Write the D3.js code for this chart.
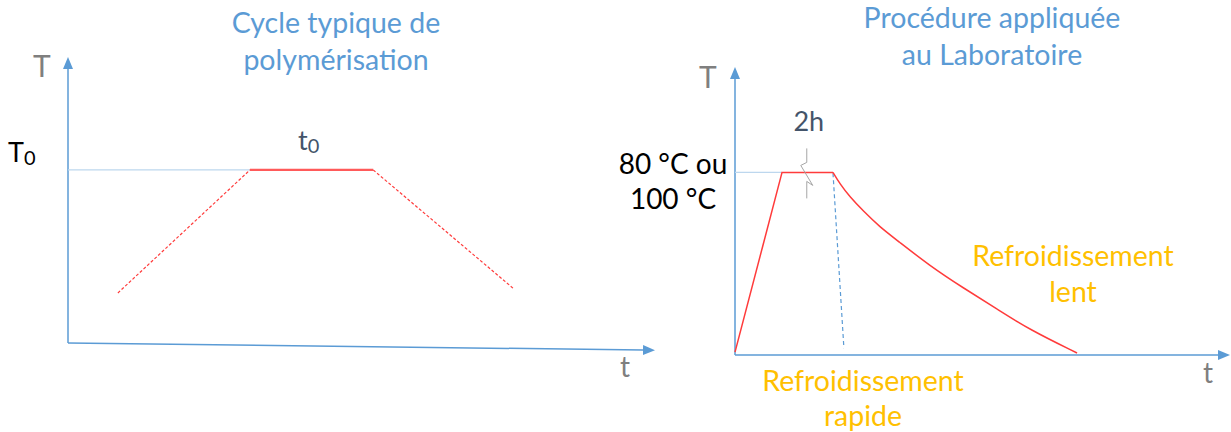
<!DOCTYPE html>
<html>
<head>
<meta charset="utf-8">
<script src="https://cdn.jsdelivr.net/npm/d3@7"></script>
<style>
  body { margin: 0; background: #fff; }
  svg { display: block; font-family: Lato, "Open Sans", sans-serif; }
</style>
</head>
<body>
<div id="chart"></div>
<script>
// left panel: typical polymerisation cycle (time units, % of T scale)
const cycleTime = [0.85, 3.1, 5.2, 7.58];
const cycleTemp = [17.5, 60.5, 60.5, 19.2];
const cycleTitle = ["Cycle typique de", "polymérisation"];

// right panel: procedure used at the lab
const rampTime = [0, 0.95, 1.98];
const rampTemp = [1, 63.4, 63.4];
const slowTime = [1.98, 2.12, 2.32, 2.59, 2.93, 3.27, 3.94, 4.61, 5.29, 5.96, 6.91];
const slowTemp = [63.4, 59.4, 54.9, 50.0, 44.4, 39.9, 30.9, 23.3, 16.0, 8.7, 0.7];
const fastTime = [1.98, 2.2];
const fastTemp = [63.1, 2.4];
const holdMark = 1.45; // where the "2h" break sits on the plateau
const labTitle = ["Procédure appliquée", "au Laboratoire"];
const plateauLabel = ["80 °C ou", "100 °C"];
const slowLabel = ["Refroidissement", "lent"];
const fastLabel = ["Refroidissement", "rapide"];

const config = {
  width: 1231,
  height: 432,
  axisColor: "#5B9BD5",
  refColor: "#BDD7EE",
  red: "#FF3B3B",
  titleColor: "#5B9BD5",
  orange: "#FFC000",
  gray: "#7F7F7F",
  slate: "#44546A",
  fontSize: 28.5,
};

const svg = d3
  .select("#chart")
  .append("svg")
  .attr("width", config.width)
  .attr("height", config.height);

// arrow marker for the axes
svg
  .append("defs")
  .append("marker")
  .attr("id", "arrow")
  .attr("viewBox", "0 0 12 10")
  .attr("refX", 0)
  .attr("refY", 5)
  .attr("markerWidth", 12)
  .attr("markerHeight", 10)
  .attr("markerUnits", "userSpaceOnUse")
  .attr("orient", "auto")
  .append("path")
  .attr("d", "M0,0L12,5L0,10Z")
  .attr("fill", config.axisColor);

const line = (x, y) =>
  d3
    .line()
    .x((d) => x(d[0]))
    .y((d) => y(d[1]));

function multiLine(g, lines, x, y, spacing, color, size) {
  g.append("text")
    .attr("text-anchor", "middle")
    .attr("fill", color)
    .style("font-size", size + "px")
    .selectAll("tspan")
    .data(lines)
    .join("tspan")
    .attr("x", x)
    .attr("y", (d, i) => y + i * spacing)
    .text((d) => d);
}

// ---------- left panel ----------
const xL = d3.scaleLinear().domain([0, 10]).range([68, 655]);
const yL = d3.scaleLinear().domain([0, 100]).range([343, 57]);
const left = svg.append("g");
const lineL = line(xL, yL);

// axes (the t axis is drawn slightly tilted, as in the original)
left
  .append("line")
  .attr("x1", xL(0))
  .attr("y1", yL(0))
  .attr("x2", xL(0))
  .attr("y2", yL(100) + 12)
  .attr("stroke", config.axisColor)
  .attr("stroke-width", 1.5)
  .attr("marker-end", "url(#arrow)");
left
  .append("line")
  .attr("x1", xL(0))
  .attr("y1", yL(0))
  .attr("x2", xL(10) - 12)
  .attr("y2", yL(0) + 7)
  .attr("stroke", config.axisColor)
  .attr("stroke-width", 1.5)
  .attr("marker-end", "url(#arrow)");

// T0 reference
left
  .append("path")
  .attr("d", lineL([[0, cycleTemp[1]], [cycleTime[1], cycleTemp[1]]]))
  .attr("stroke", config.refColor)
  .attr("stroke-width", 1.2)
  .attr("fill", "none");

// ramps (dashed) and plateau
left
  .append("path")
  .attr("d", lineL([[cycleTime[0], cycleTemp[0]], [cycleTime[1], cycleTemp[1]]]))
  .attr("stroke", config.red)
  .attr("stroke-width", 1.2)
  .attr("stroke-dasharray", "3,2")
  .attr("fill", "none");
left
  .append("path")
  .attr("d", lineL([[cycleTime[2], cycleTemp[2]], [cycleTime[3], cycleTemp[3]]]))
  .attr("stroke", config.red)
  .attr("stroke-width", 1.2)
  .attr("stroke-dasharray", "3,2")
  .attr("fill", "none");
left
  .append("path")
  .attr("d", lineL([[cycleTime[1], cycleTemp[1]], [cycleTime[2], cycleTemp[2]]]))
  .attr("stroke", "#FF5A5A")
  .attr("stroke-width", 2.2)
  .attr("fill", "none");

// labels
multiLine(left, cycleTitle, 336, 33, 37, config.titleColor, config.fontSize);
left
  .append("text")
  .attr("x", 33)
  .attr("y", 77)
  .attr("fill", config.gray)
  .style("font-size", "30px")
  .text("T");
left
  .append("text")
  .attr("x", 620)
  .attr("y", 377)
  .attr("fill", config.gray)
  .style("font-size", "28px")
  .text("t");

const t0Label = left
  .append("text")
  .attr("x", 8)
  .attr("y", yL(cycleTemp[1]) - 8)
  .attr("fill", "#000")
  .style("font-size", "27px");
t0Label.append("tspan").text("T");
t0Label.append("tspan").attr("dy", 3).style("font-size", "20px").text("0");

const tLabel = left
  .append("text")
  .attr("x", 298)
  .attr("y", yL(cycleTemp[1]) - 20)
  .attr("fill", config.slate)
  .style("font-size", "27px");
tLabel.append("tspan").text("t");
tLabel.append("tspan").attr("dy", 3).style("font-size", "20px").text("0");

// ---------- right panel ----------
const xR = d3.scaleLinear().domain([0, 10]).range([735, 1230]);
const yR = d3.scaleLinear().domain([0, 100]).range([355, 67]);
const right = svg.append("g");
const lineR = line(xR, yR);

right
  .append("line")
  .attr("x1", xR(0))
  .attr("y1", yR(0))
  .attr("x2", xR(0))
  .attr("y2", yR(100) + 12)
  .attr("stroke", config.axisColor)
  .attr("stroke-width", 1.5)
  .attr("marker-end", "url(#arrow)");
right
  .append("line")
  .attr("x1", xR(0))
  .attr("y1", yR(0))
  .attr("x2", xR(10) - 12)
  .attr("y2", yR(0))
  .attr("stroke", config.axisColor)
  .attr("stroke-width", 1.5)
  .attr("marker-end", "url(#arrow)");

// plateau reference
right
  .append("path")
  .attr("d", lineR([[0, rampTemp[1]], [rampTime[1], rampTemp[1]]]))
  .attr("stroke", config.refColor)
  .attr("stroke-width", 1.2)
  .attr("fill", "none");

// fast cooling (dashed blue)
right
  .append("path")
  .attr("d", lineR(d3.zip(fastTime, fastTemp)))
  .attr("stroke", config.axisColor)
  .attr("stroke-width", 1.2)
  .attr("stroke-dasharray", "4,3")
  .attr("fill", "none");

// ramp + plateau
right
  .append("path")
  .attr("d", lineR(d3.zip(rampTime, rampTemp)))
  .attr("stroke", config.red)
  .attr("stroke-width", 1.5)
  .attr("fill", "none");

// slow cooling curve
right
  .append("path")
  .attr("d", line(xR, yR).curve(d3.curveBasis)(d3.zip(slowTime, slowTemp)))
  .attr("stroke", config.red)
  .attr("stroke-width", 1.5)
  .attr("fill", "none");

// break mark on the plateau
const bx = xR(holdMark);
const by = yR(rampTemp[1]);
right
  .append("path")
  .attr(
    "d",
    `M${bx},${by - 24}V${by - 10}L${bx - 6},${by - 7}L${bx + 6},${by + 13}L${bx},${by + 9}V${by + 26}`
  )
  .attr("stroke", "#A6A6A6")
  .attr("stroke-width", 1)
  .attr("fill", "none");

right
  .append("text")
  .attr("x", bx + 2)
  .attr("y", 131)
  .attr("text-anchor", "middle")
  .attr("fill", config.slate)
  .style("font-size", "27px")
  .text("2h");

multiLine(right, labTitle, 992, 28, 37, config.titleColor, config.fontSize);
multiLine(right, plateauLabel, 673, 174, 35, "#000", 28);
multiLine(right, slowLabel, 1073, 266, 36, config.orange, config.fontSize);
multiLine(right, fastLabel, 863, 391, 35, config.orange, config.fontSize);

right
  .append("text")
  .attr("x", 699)
  .attr("y", 88)
  .attr("fill", config.gray)
  .style("font-size", "30px")
  .text("T");
right
  .append("text")
  .attr("x", 1203)
  .attr("y", 383)
  .attr("fill", config.gray)
  .style("font-size", "28px")
  .text("t");
</script>
</body>
</html>
